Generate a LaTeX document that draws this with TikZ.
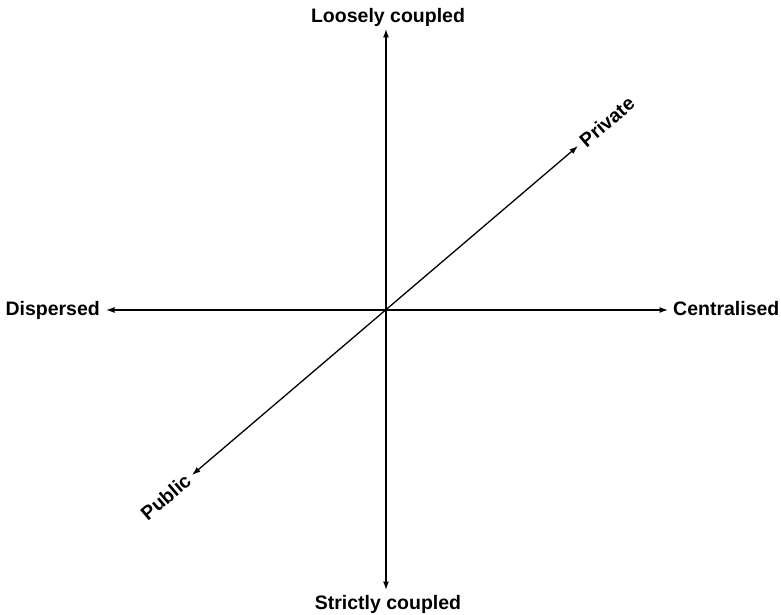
\documentclass[tikz,border=0pt]{standalone}
\usepackage{fontspec}
\setmainfont{Liberation Sans}
\usetikzlibrary{arrows.meta}
\begin{document}
\begin{tikzpicture}[x=1pt,y=-1pt,
  axis/.style={line width=1.3pt,{Latex[length=8.5pt,width=6pt]}-{Latex[length=8.5pt,width=6pt]}},
  lbl/.style={font=\fontsize{19.5}{23}\selectfont\bfseries,inner sep=0pt}]
\useasboundingbox (0,0) rectangle (781,615);
\coordinate (c) at (386,310);
\coordinate (top) at (386,29);
\coordinate (bot) at (386,590);
\coordinate (left) at (106,310);
\coordinate (right) at (668,310);
\coordinate (ne) at (578,146);
\coordinate (sw) at (192,475);
\draw[axis] (bot) -- (top);
\draw[axis] (left) -- (right);
\draw[axis] (sw) -- (ne);
\node[lbl,anchor=base] (lc) at (388,23) {Loosely coupled};
\node[lbl,anchor=base] (sc) at (388,609) {Strictly coupled};
\node[lbl,anchor=base east] (dis) at (100,315) {Dispersed};
\node[lbl,anchor=base west] (cen) at (673,315) {Centralised};
\node[lbl,anchor=west,rotate=40.5] (pri) at ([shift={(4,-3)}]ne) {Private};
\node[lbl,anchor=east,rotate=40.5] (pub) at ([shift={(-4,3)}]sw) {Public};
\end{tikzpicture}
\end{document}
